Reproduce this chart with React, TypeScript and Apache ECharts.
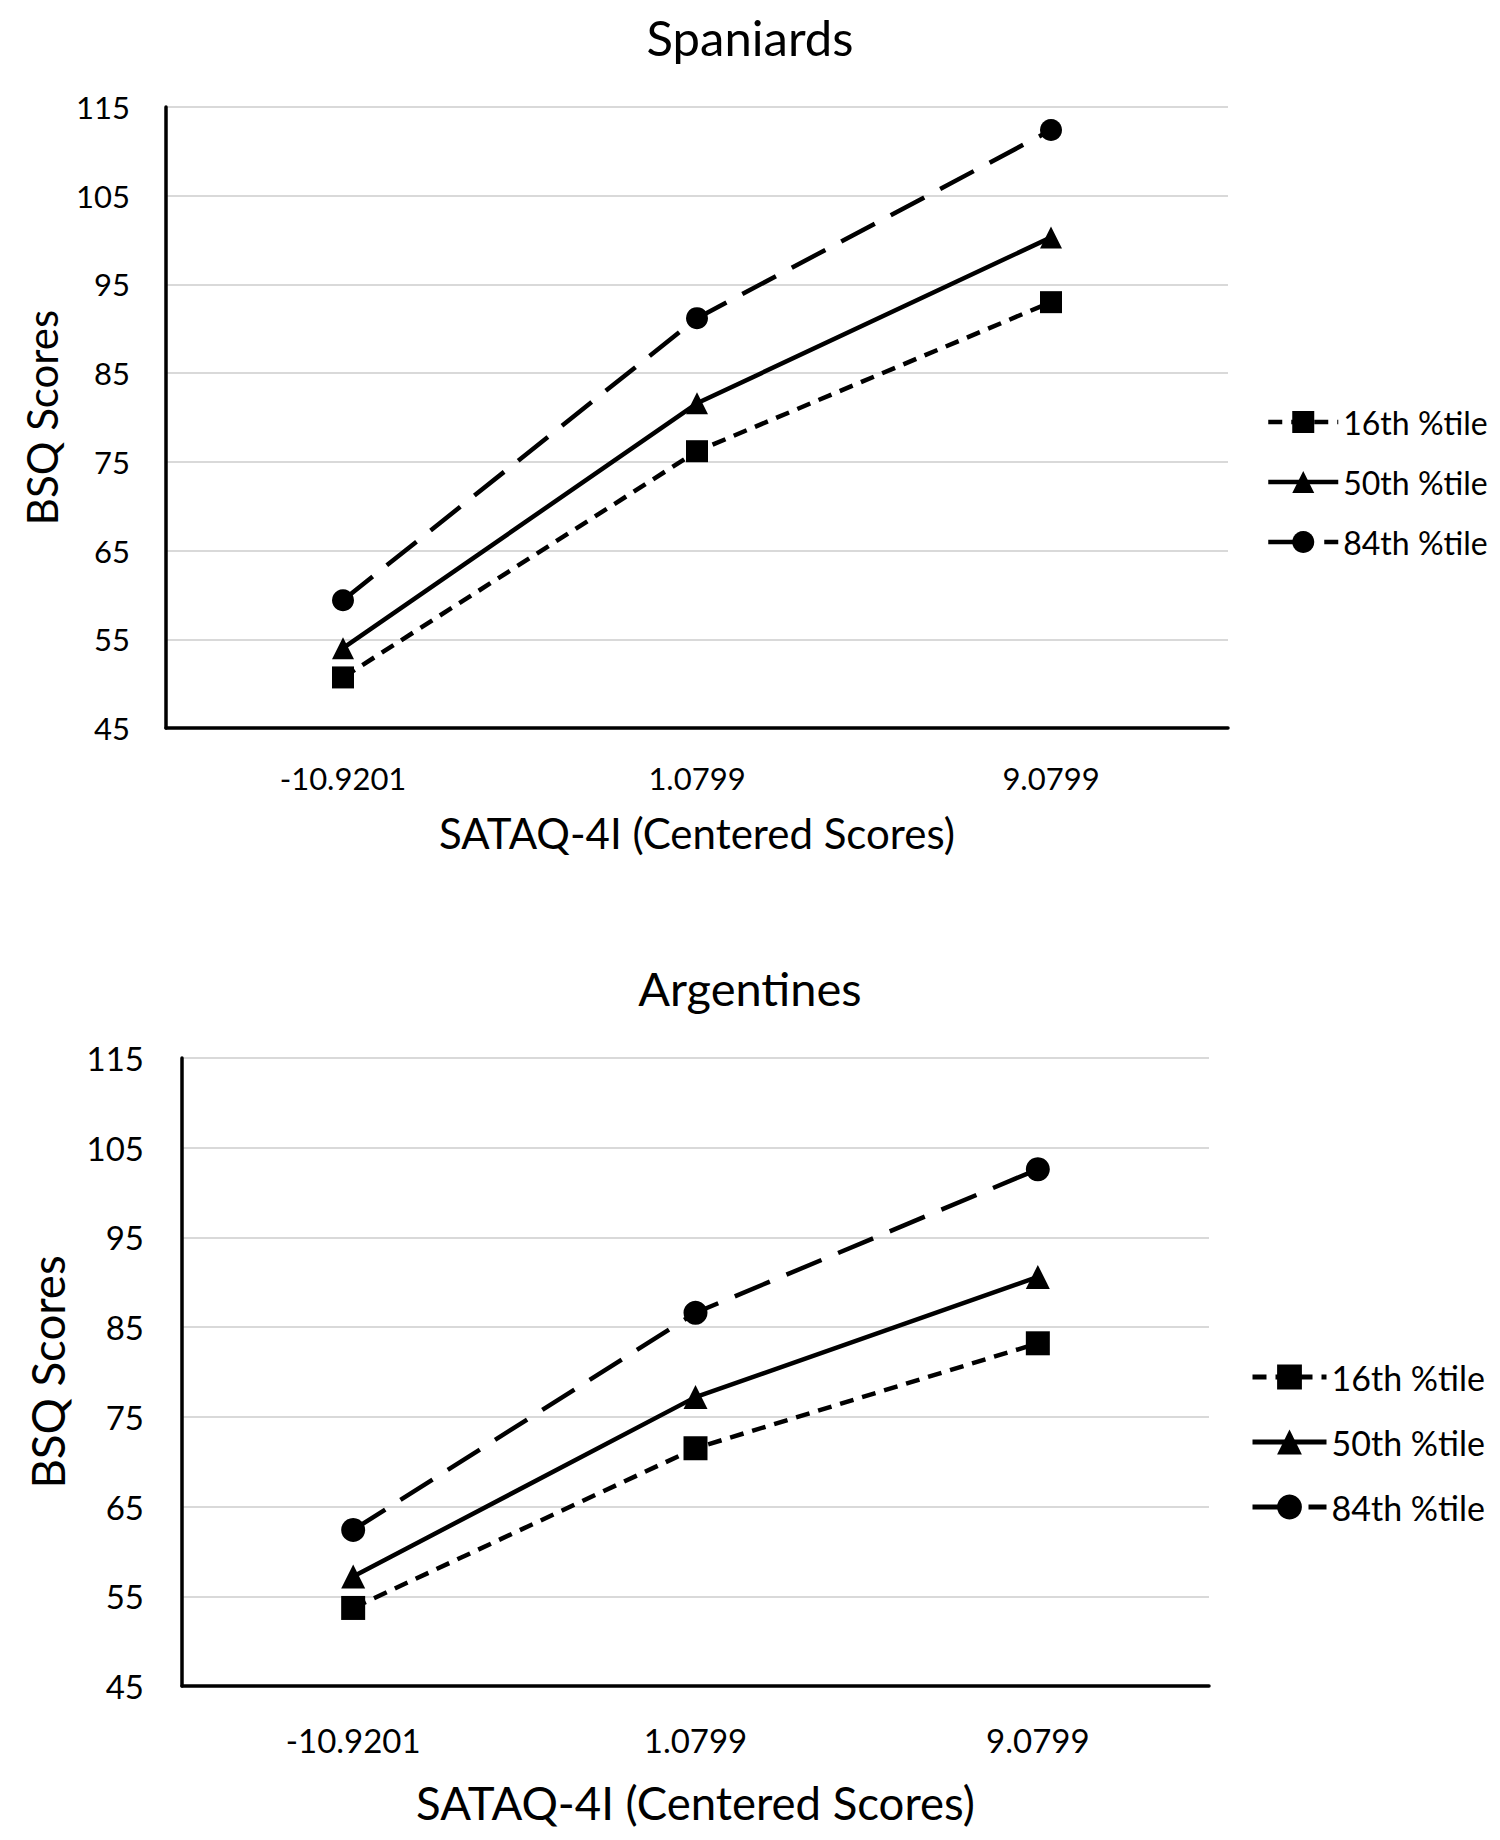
import React, { useEffect, useRef } from "react";
import * as echarts from "echarts";

const categories = ["-10.9201", "1.0799", "9.0799"];
const seriesNames = ["16th %tile", "50th %tile", "84th %tile"];
const yTicks = [45, 115, 10]; // min, max, step

const spaniards16 = [50.7, 76.2, 93.0];
const spaniards50 = [54.0, 81.6, 100.3];
const spaniards84 = [59.4, 91.2, 112.4];

const argentines16 = [53.7, 71.5, 83.2];
const argentines50 = [57.2, 77.2, 90.6];
const argentines84 = [62.4, 86.6, 102.6];

const FONT = "Lato";

export default function App() {
  const ref = useRef<HTMLDivElement>(null);
  useEffect(() => {
    if (!ref.current) return;
    const chart = echarts.init(ref.current, null, { renderer: "svg" });

    const styles = [
      { symbol: "rect", dash: [14, 9] as any },
      { symbol: "triangle", dash: "solid" as any },
      { symbol: "circle", dash: [38, 18] as any },
    ];
    const dataSets = [
      [spaniards16, spaniards50, spaniards84],
      [argentines16, argentines50, argentines84],
    ];
    const symbolSizes = [22, 24];

    const series: any[] = [];
    dataSets.forEach((set, g) => {
      set.forEach((vals, i) => {
        series.push({
          type: "line",
          name: seriesNames[i],
          xAxisIndex: g,
          yAxisIndex: g,
          data: vals,
          symbol: styles[i].symbol,
          symbolSize: symbolSizes[g],
          showSymbol: true,
          itemStyle: { color: "#000" },
          lineStyle: { color: "#000", width: 4.5, type: styles[i].dash, cap: "butt" },
          emphasis: { disabled: true },
          z: 3 - i,
        });
      });
    });

    const fs = [
      { tick: 31, name: 42, title: 49, legend: 32 },
      { tick: 33, name: 45.5, title: 47, legend: 34 },
    ];

    const grids = [
      { left: 166, top: 107, width: 1062, height: 621 },
      { left: 182, top: 1058, width: 1027, height: 628 },
    ];

    const xAxis = grids.map((_, g) => ({
      type: "category",
      gridIndex: g,
      data: categories,
      boundaryGap: true,
      axisLine: { show: true, lineStyle: { color: "#000", width: 3.5 } },
      axisTick: { show: false },
      axisLabel: {
        color: "#000",
        fontFamily: FONT,
        fontSize: fs[g].tick,
        margin: g === 0 ? 34 : 37,
      },
      name: "SATAQ-4I (Centered Scores)",
      nameLocation: "middle",
      nameGap: g === 0 ? 84 : 93,
      nameTextStyle: { color: "#000", fontFamily: FONT, fontSize: fs[g].name },
      splitLine: { show: false },
    }));

    const yAxis = grids.map((_, g) => ({
      type: "value",
      gridIndex: g,
      min: yTicks[0],
      max: yTicks[1],
      interval: yTicks[2],
      axisLine: { show: true, lineStyle: { color: "#000", width: 3.5 } },
      axisTick: { show: false },
      axisLabel: {
        color: "#000",
        fontFamily: FONT,
        fontSize: fs[g].tick,
        margin: g === 0 ? 36 : 38,
      },
      splitLine: { show: true, lineStyle: { color: "#d9d9d9", width: 2 } },
      name: "BSQ Scores",
      nameLocation: "middle",
      nameGap: g === 0 ? 103 : 112,
      nameTextStyle: { color: "#000", fontFamily: FONT, fontSize: fs[g].name },
    }));

    const option: any = {
      animation: false,
      backgroundColor: "#fff",
      title: [
        {
          text: "Spaniards",
          left: "center",
          top: 7,
          textStyle: { color: "#000", fontFamily: FONT, fontSize: fs[0].title, fontWeight: "normal" },
        },
        {
          text: "Argentines",
          left: "center",
          top: 959,
          textStyle: { color: "#000", fontFamily: FONT, fontSize: fs[1].title, fontWeight: "normal" },
        },
      ],
      legend: [
        {
          data: seriesNames,
          orient: "vertical",
          left: 1261,
          top: 401,
          itemWidth: 70,
          itemHeight: 27.5,
          itemGap: 28,
          selectedMode: false,
          textStyle: { color: "#000", fontFamily: FONT, fontSize: fs[0].legend, lineHeight: 28 },
          lineStyle: { width: 4.5 },
        },
        {
          data: seriesNames,
          orient: "vertical",
          left: 1245,
          top: 1355,
          itemWidth: 74,
          itemHeight: 31,
          itemGap: 31,
          selectedMode: false,
          textStyle: { color: "#000", fontFamily: FONT, fontSize: fs[1].legend, lineHeight: 30 },
          lineStyle: { width: 5 },
        },
      ],
      grid: grids,
      xAxis,
      yAxis,
      series,
    };
    chart.setOption(option);
    return () => chart.dispose();
  }, []);

  return (
    <div
      ref={ref}
      style={{ position: "absolute", left: 0, top: 0, width: 1500, height: 1840, background: "#fff" }}
    />
  );
}
